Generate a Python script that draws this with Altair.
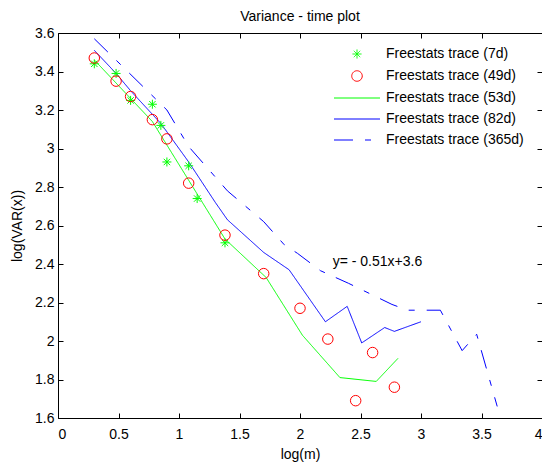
import altair as alt
import pandas as pd

# ---- data ----
series_names = ["Freestats trace (7d)", "Freestats trace (49d)", "Freestats trace (53d)",
                "Freestats trace (82d)", "Freestats trace (365d)"]

x7 = [0.30, 0.48, 0.60, 0.78, 0.85, 0.90, 1.08, 1.15, 1.38]
y7 = [3.44, 3.39, 3.25, 3.23, 3.12, 2.93, 2.91, 2.74, 2.51]

x49 = [0.30, 0.48, 0.60, 0.78, 0.90, 1.08, 1.38, 1.70, 2.00, 2.23, 2.46, 2.60, 2.78]
y49 = [3.47, 3.35, 3.27, 3.15, 3.05, 2.82, 2.55, 2.35, 2.17, 2.01, 1.69, 1.94, 1.76]

x53 = [0.30, 0.60, 0.78, 1.38, 1.72, 2.02, 2.33, 2.63, 2.81]
y53 = [3.46, 3.26, 3.14, 2.53, 2.33, 2.03, 1.81, 1.79, 1.91]

x82 = [0.30, 0.48, 0.60, 0.85, 1.08, 1.30, 1.40, 1.70, 1.91, 2.21, 2.39, 2.51, 2.70, 2.78, 3.00]
y82 = [3.51, 3.39, 3.30, 3.13, 2.93, 2.72, 2.63, 2.46, 2.37, 2.10, 2.18, 1.99, 2.07, 2.05, 2.10]

x365 = [0.30, 0.90, 1.08, 1.40, 1.70, 1.87, 1.98, 2.17, 2.40, 2.76, 2.89, 3.16, 3.34, 3.46, 3.63]
y365 = [3.57, 3.20, 3.01, 2.78, 2.62, 2.50, 2.455, 2.365, 2.30, 2.19, 2.16, 2.16, 1.95, 2.035, 1.66]

fit_label = "y= - 0.51x+3.6"
fit_x = [2.27]
fit_y = [2.41]

x_ticks = [0, 0.5, 1, 1.5, 2, 2.5, 3, 3.5, 4]
y_ticks = [1.6, 1.8, 2.0, 2.2, 2.4, 2.6, 2.8, 3.0, 3.2, 3.4, 3.6]

# ---- tables ----
def frame(xs, ys, name):
    return pd.DataFrame({"x": xs, "y": ys, "series": name})

pts = pd.concat([frame(x7, y7, series_names[0]), frame(x49, y49, series_names[1])], ignore_index=True)
lines = pd.concat([frame(x53, y53, series_names[2]), frame(x82, y82, series_names[3]),
                   frame(x365, y365, series_names[4])], ignore_index=True)
lines["order"] = range(len(lines))
ann = pd.DataFrame({"x": fit_x, "y": fit_y, "label": [fit_label]})

FONT = "Liberation Sans"
asterisk = "M-0.9,0L0.9,0M0,-0.9L0,0.9M-0.64,-0.64L0.64,0.64M-0.64,0.64L0.64,-0.64"
circle = "M1.05,0A1.05,1.05,0,1,1,-1.05,0A1.05,1.05,0,1,1,1.05,0Z"
legend_line = "M-4.6,0L4.6,0"

xs = alt.Scale(domain=[0, 4], nice=False, zero=False)
ys = alt.Scale(domain=[1.6, 3.6], nice=False, zero=False)

leg = alt.Legend(title=None, orient="none", legendX=292, legendY=14, labelFontSize=14,
                 labelFont=FONT, labelOffset=22, rowPadding=7, symbolStrokeWidth=1,
                 symbolSize=100, padding=0, labelLimit=300)

color = alt.Color("series:N", scale=alt.Scale(domain=series_names,
                  range=["#00ff00", "#ff0000", "#00ff00", "#0000ff", "#0000ff"]), legend=leg)
shape = alt.Shape("series:N", scale=alt.Scale(domain=series_names,
                  range=[asterisk, circle, legend_line, legend_line, legend_line]), legend=leg)
dash = alt.StrokeDash("series:N", scale=alt.Scale(domain=series_names,
                      range=[[1, 0], [1, 0], [1, 0], [1, 0], [19, 12, 6, 12]]), legend=leg)

lab_x = alt.Axis(values=x_ticks, orient="bottom", title="log(m)", ticks=False, domain=False,
                 grid=False, format="~g", labelPadding=9, titlePadding=6)
lab_y = alt.Axis(values=y_ticks, orient="left", title="log(VAR(x))", ticks=False, domain=False,
                 grid=False, format="~g", labelPadding=4, titlePadding=10)

in_x_bottom = alt.Axis(values=x_ticks, orient="bottom", offset=-5, tickSize=5, labels=False,
                       domain=False, grid=False, title=None)
in_y_left = alt.Axis(values=y_ticks, orient="left", offset=-5, tickSize=5, labels=False,
                     domain=False, grid=False, title=None)
in_x_top = alt.Axis(values=x_ticks, orient="top", offset=-5, tickSize=5, labels=False,
                    domain=False, grid=False, title=None)
in_y_right = alt.Axis(values=y_ticks, orient="right", offset=-5, tickSize=5, labels=False,
                      domain=False, grid=False, title=None)

points = alt.Chart(pts).mark_point(filled=False, strokeWidth=1, opacity=1, size=100).encode(
    x=alt.X("x:Q", scale=xs, axis=lab_x),
    y=alt.Y("y:Q", scale=ys, axis=lab_y),
    color=color, shape=shape,
)

line_layer = alt.Chart(lines).mark_line(strokeWidth=1).encode(
    x=alt.X("x:Q", scale=xs, axis=in_x_bottom),
    y=alt.Y("y:Q", scale=ys, axis=in_y_left),
    color=color, strokeDash=dash, order="order:Q",
)

text_layer = alt.Chart(ann).mark_text(align="left", baseline="middle", fontSize=14,
                                      font=FONT, color="black").encode(
    x=alt.X("x:Q", scale=xs, axis=in_x_top),
    y=alt.Y("y:Q", scale=ys, axis=in_y_right),
    text="label:N",
)

chart = alt.layer(line_layer, points, text_layer).resolve_axis(
    x="independent", y="independent"
).properties(
    width=484, height=385,
    title=alt.Title("Variance - time plot", fontSize=14, font=FONT, fontWeight="normal", offset=2),
    padding={"left": 50, "top": 25, "right": 0, "bottom": 44},
    autosize=alt.AutoSizeParams(type="none"),
).configure_view(
    stroke="black", strokeWidth=1
).configure_axis(
    labelFont=FONT, titleFont=FONT, labelFontSize=14, titleFontSize=14,
    titleFontWeight="normal", labelColor="black", titleColor="black",
    tickColor="black", tickWidth=1
)

chart.save("out.html", embed_options={"renderer": "svg", "actions": False})
